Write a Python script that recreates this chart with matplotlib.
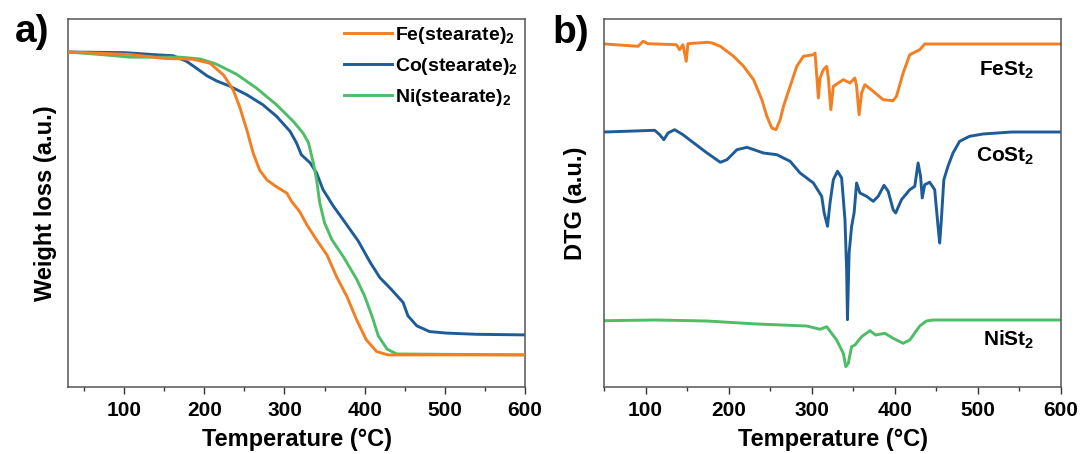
import numpy as np
import matplotlib
matplotlib.use("Agg")
import matplotlib.pyplot as plt
from matplotlib.ticker import MultipleLocator, NullLocator

plt.rcParams['font.family'] = ['Liberation Sans', 'DejaVu Sans']
plt.rcParams['font.weight'] = 'bold'
plt.rcParams['mathtext.fontset'] = 'custom'
plt.rcParams['mathtext.rm'] = 'Liberation Sans:bold'
plt.rcParams['mathtext.bf'] = 'Liberation Sans:bold'
plt.rcParams['mathtext.it'] = 'Liberation Sans:bold'
plt.rcParams['mathtext.default'] = 'rm'

# ---------------- TGA data (weight, a.u.) ----------------
fe_T = [30, 107, 149, 186, 207, 224, 236, 244, 253, 261, 269, 278, 290, 303, 309, 319, 328,
        340, 353, 365, 378, 390, 402, 415, 429, 600]
fe_W = [100, 99.2, 97.9, 97.6, 96.3, 92.4, 87.5, 82, 74.3, 66.6, 61, 57.8, 55.5, 53.4, 50.6,
        47.3, 42.9, 38, 33, 25.8, 19.2, 11.6, 5, 1.1, 0, 0]

co_T = [30, 100, 145, 161, 178, 190, 203, 215, 232, 253, 273, 290, 307, 315, 321, 332, 340,
        348, 361, 373, 392, 407, 419, 433, 448, 454, 465, 481, 502, 540, 600]
co_W = [100, 99.8, 99, 98.8, 96.9, 94.7, 92.2, 90.5, 88.7, 85.9, 82.6, 78.8, 73.8, 70, 66.1,
        63.4, 60.1, 54.6, 49.1, 44.7, 37.6, 30.5, 25.5, 21.7, 17.3, 12.9, 9.6, 7.7, 7.2, 6.8, 6.6]

ni_T = [30, 74, 107, 170, 195, 215, 240, 265, 290, 311, 323, 330, 336, 340, 344, 350, 359,
        373, 390, 400, 409, 417, 428, 440, 600]
ni_W = [100, 99.1, 98.3, 98.3, 97.7, 96, 92.7, 88.1, 82.6, 77.1, 73.3, 70, 63.4, 57.9, 50.2,
        43.6, 38.1, 32.6, 25, 19.4, 12.9, 6.3, 1.9, 0.3, 0]

# ---------------- DTG data (a.u., dips below baseline) ----------------
fe_dT = [51, 91, 97, 103, 137, 141, 145, 149, 151, 175, 180, 190, 198, 206, 218, 230, 240,
         246, 252, 257, 262, 266, 274, 282, 290, 302, 304, 308, 310, 314, 318, 320, 323, 326,
         332, 338, 346, 352, 354, 357, 360, 364, 374, 386, 398, 402, 410, 418, 430, 436, 600]
fe_dtg = [0, -2.3, 2.7, 0.3, -0.7, -5.7, -0.7, -17.3, 0.3, 1.7, 1, -2.3, -7.3, -12.3, -22.3,
          -35.7, -55.7, -72.3, -84, -85.7, -75.7, -62.3, -42.3, -22.3, -12.3, -10.7, -9, -54,
          -34, -25.7, -22.3, -34, -65.7, -42.3, -39, -35.7, -39, -34, -42.3, -70.7, -49, -40.7,
          -47.3, -55.7, -56.7, -52.3, -29, -10.7, -5.7, 0, 0]

co_dT = [51, 111, 117, 122, 127, 135, 145, 157, 174, 190, 198, 210, 222, 242, 258, 274, 286,
         302, 312, 315, 319, 322, 326, 331, 336, 340, 342, 343, 345, 348, 351, 354, 358, 366,
         374, 380, 387, 392, 398, 401, 408, 418, 424, 428, 431, 433, 436, 442, 448, 452, 454,
         456, 459, 464, 470, 478, 490, 506, 541, 600]
co_dtg = [0, 1.7, -2.7, -7.7, -1, 2.3, -2.7, -10.3, -21, -30.3, -27.7, -17.7, -15.3, -21,
          -22.7, -29.3, -41, -51, -64.3, -81, -94.3, -71, -47.7, -39.3, -46, -87.7, -137.7,
          -187.7, -121, -94.3, -81, -51, -61, -64.3, -69.3, -64.3, -53.3, -59.3, -77.7, -81,
          -67.7, -57.7, -54.3, -31, -44.3, -66, -52.7, -50.3, -57.7, -94.3, -111, -87.7,
          -47.7, -34.3, -21, -9.3, -4.3, -2, 0, 0]

ni_dT = [51, 112, 174, 234, 294, 310, 318, 330, 338, 341, 344, 348, 352, 360, 370, 377, 388,
         398, 410, 418, 430, 438, 446, 600]
ni_dtg = [-0.7, 0, -1, -4, -6, -9.3, -6.7, -20, -33.3, -46.7, -43.3, -26.7, -25, -16.7, -10.7,
          -15, -13.3, -18.3, -23.3, -20, -6, -1, 0, 0]

dtg_offsets = [343, 255, 67]
dtg_labels = [r'FeSt$_2$', r'CoSt$_2$', r'NiSt$_2$']
legend_labels = [r'Fe(stearate)$_2$', r'Co(stearate)$_2$', r'Ni(stearate)$_2$']

c_fe = '#F47F22'
c_co = '#1E5C98'
c_ni = '#4DBD66'

fig = plt.figure(figsize=(10.82, 4.54), dpi=100)
axA = fig.add_axes([68/1082, 67/454, 457/1082, 368/454])
axB = fig.add_axes([604/1082, 67/454, 457/1082, 368/454])

lw = 2.1
l_co, = axA.plot(co_T, co_W, color=c_co, lw=lw, zorder=2)
l_ni, = axA.plot(ni_T, ni_W, color=c_ni, lw=lw, zorder=3)
l_fe, = axA.plot(fe_T, fe_W, color=c_fe, lw=lw, zorder=4)
axA.set_xlim(30, 600)
axA.set_ylim(-10.6, 110.9)
axA.yaxis.set_major_locator(NullLocator())
axA.set_ylabel('Weight loss (a.u.)', fontsize=17, fontweight='bold', labelpad=8)

leg = axA.legend([l_fe, l_co, l_ni], legend_labels, loc='upper left',
                 bbox_to_anchor=(0.604, 0.985), frameon=False, fontsize=14,
                 handlelength=2.45, handletextpad=0.15, labelspacing=0.52,
                 borderpad=0, borderaxespad=0)

for d_T, d_v, off, c in [(fe_dT, fe_dtg, dtg_offsets[0], c_fe),
                         (co_dT, co_dtg, dtg_offsets[1], c_co),
                         (ni_dT, ni_dtg, dtg_offsets[2], c_ni)]:
    axB.plot(d_T, np.array(d_v) + off, color=c, lw=lw)
axB.set_xlim(50, 600)
axB.set_ylim(0, 368)
axB.yaxis.set_major_locator(NullLocator())
axB.set_ylabel('DTG (a.u.)', fontsize=17, fontweight='bold', labelpad=12)

label_y = [317, 231, 47]
for lab, yy in zip(dtg_labels, label_y):
    axB.text(568, yy, lab, fontsize=15, fontweight='bold', ha='right', va='center')

for ax in (axA, axB):
    ax.xaxis.set_major_locator(MultipleLocator(100))
    ax.xaxis.set_minor_locator(MultipleLocator(50))
    ax.tick_params(axis='x', which='major', length=5, width=1, direction='out',
                   labelsize=15, pad=5, color='#333333')
    ax.tick_params(axis='x', which='minor', length=3, width=1, direction='out',
                   color='#333333')
    for lbl in ax.get_xticklabels():
        lbl.set_fontweight('bold')
    ax.set_xlabel('Temperature (°C)', fontsize=17, fontweight='bold', labelpad=6)
    for s in ax.spines.values():
        s.set_color('#555555')
        s.set_linewidth(1.1)

fig.text(32/1082, 1 - 32/454, 'a)', fontsize=28, fontweight='bold', ha='center', va='center')
fig.text(571/1082, 1 - 33/454, 'b)', fontsize=28, fontweight='bold', ha='center', va='center')

fig.savefig('out.png', dpi=100)
